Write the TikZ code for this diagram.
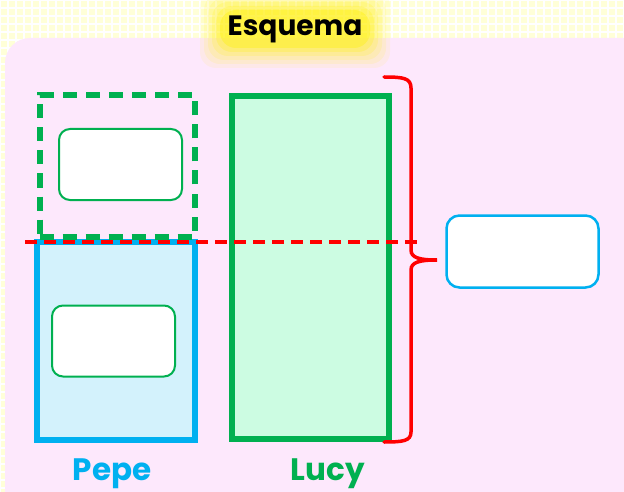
\documentclass[tikz,border=0pt]{standalone}
\usepackage{fontspec}
\setmainfont{Poppins}
\definecolor{gverde}{HTML}{00B050}
\definecolor{gazul}{HTML}{00B0F0}
\definecolor{grosa}{HTML}{FDE8FC}
\definecolor{gcrema}{HTML}{FFFFD8}
\definecolor{gmenta}{HTML}{CCFCE2}
\definecolor{gcielo}{HTML}{D3F2FC}
\tikzset{
    CAJ/.style ={rectangle,minimum width = 123pt, minimum height = 71pt, draw=gverde, line width=2pt, fill=white, rounded corners=11pt},
    CAJ2/.style ={rectangle,minimum width = 152pt, minimum height = 72pt, draw=gazul, line width=2.5pt, fill=white, rounded corners=13pt},
    BAR/.style ={rectangle, line width=6pt},
    NOM/.style ={font=\fontsize{31}{34}\selectfont\bfseries},
    LLAVE/.style ={draw=red, line width=3.5pt, line cap=round}}

\begin{document}
\begin{tikzpicture}[x=1pt,y=-1pt]
        \useasboundingbox (0,0) rectangle (624,492);
        % fondo cuadriculado
        \fill[gcrema] (0,0) rectangle (624,492);
        \draw[white, line width=2pt, step=8pt] (0,0) grid (624,492);
        \fill[grosa, rounded corners=25pt] (5,38) rectangle (660,530);
        % titulo
        \foreach \o/\e in {0.08/22, 0.1/18, 0.12/14, 0.16/10, 0.22/6, 0.35/2}
            \fill[yellow, opacity=\o, rounded corners=16pt] (222-\e,12-\e) rectangle (368+\e,46+\e);
        \node[NOM, font=\fontsize{28}{30}\selectfont\bfseries] (tit) at(295,29){Esquema};
        % barras
        \node[BAR, draw=gazul, fill=gcielo, minimum width=158pt, minimum height=198pt] (pepe) at(116,341){};
        \node[BAR, draw=gverde, dash pattern=on 14pt off 9pt, minimum width=155pt, minimum height=141pt] (parte) at(117,166){};
        \node[BAR, draw=gverde, fill=gmenta, minimum width=157pt, minimum height=343pt] (lucy) at(310.5,267.5){};
        % cajas
        \node[CAJ] (c1) at(120.5,164.5){};
        \node[CAJ] (c2) at(113.5,341){};
        \node[CAJ2] (tot) at(522.5,251.5){};
        % nombres
        \node[NOM, text=gazul] (n1) at(112,474){Pepe};
        \node[NOM, text=gverde] (n2) at(328,474){Lucy};
        % linea y llave
        \coordinate (l1) at(25,242);
        \coordinate (l2) at(417,242);
        \draw[red, line width=3.5pt, dash pattern=on 12pt off 7pt] (l1) -- (l2);
        \coordinate (b1) at(384,77);
        \coordinate (b2) at(384,442);
        \coordinate (pun) at(437,260);
        \draw[LLAVE] (b1) .. controls (403,77) and (411,78) .. (411,88) -- (411,250)
            .. controls (411,258) and (420,260) .. (pun)
            .. controls (420,260) and (411,262) .. (411,270) -- (411,432)
            .. controls (411,441) and (403,442) .. (b2);
    \end{tikzpicture}
\end{document}
